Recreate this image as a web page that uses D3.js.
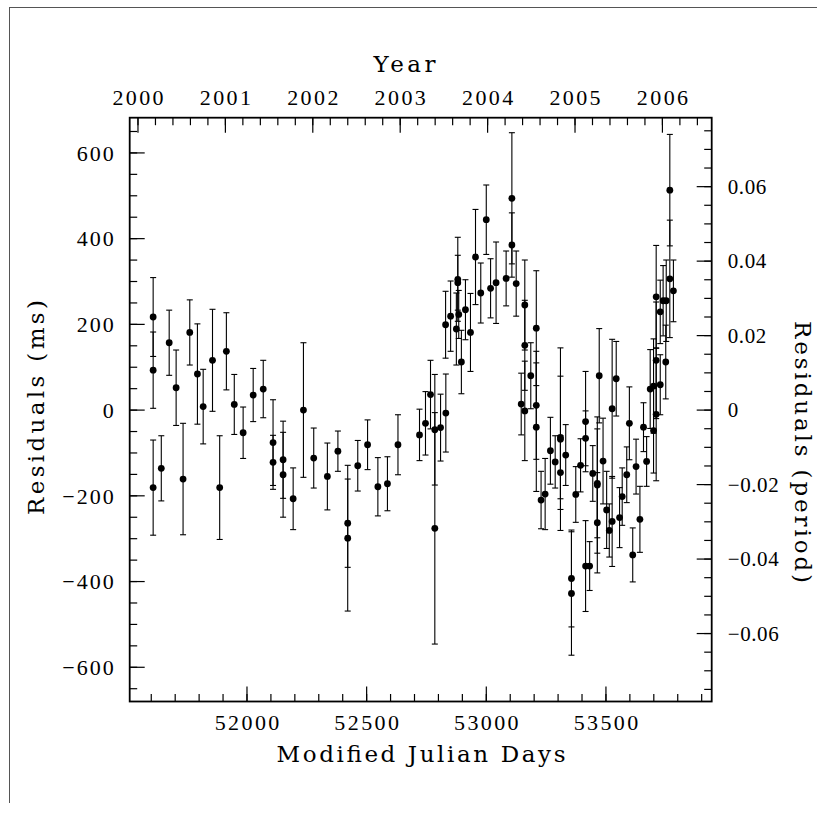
<!DOCTYPE html>
<html><head><meta charset="utf-8">
<script src="https://cdn.jsdelivr.net/npm/d3@7"></script>
<style>
body{margin:0;background:#fff}
svg{display:block}
</style>
</head><body>
<svg id="c" width="817" height="818"></svg>
<script>
// ---- data ----
const mjd = [51610,51610,51610,51644,51677,51706,51735,51763,51795,51819,
  51858,51888,51916,51949,51986,52028,52070,52111,52111,52153,
  52153,52195,52238,52281,52338,52382,52423,52423,52465,52506,
  52549,52589,52633,52723,52748,52769,52787,52787,52811,52833,
  52832,52853,52877,52883,52883,52887,52898,52915,52936,52957,
  52979,53002,53020,53043,53085,53109,53109,53127,53148,53163,
  53163,53163,53188,53211,53211,53211,53231,53248,53270,53290,
  53312,53312,53312,53334,53358,53358,53376,53396,53417,53417,
  53417,53434,53447,53466,53466,53466,53474,53490,53505,53516,
  53528,53528,53545,53559,53570,53589,53600,53614,53628,53644,
  53659,53672,53687,53701,53701,53712,53712,53712,53729,53729,
  53741,53754,53752,53769,53769,53784];
const res = [216,92,-182,-137,156,51,-162,180,83,7,
  115,-182,136,12,-54,34,48,-77,-123,-117,
  -152,-208,-1,-113,-156,-97,-265,-300,-131,-82,
  -180,-173,-82,-59,-32,35,-47,-277,-42,-8,
  198,218,188,304,296,222,111,233,180,356,
  272,443,283,296,306,493,384,294,13,244,
  150,-3,79,190,10,-41,-211,-197,-96,-122,
  -65,-69,-147,-106,-394,-429,-198,-130,-28,-67,
  -365,-365,-149,-172,-176,-264,79,-120,-234,-282,
  -261,2,72,-252,-203,-152,-32,-339,-133,-256,
  -41,-121,48,55,-49,263,115,-11,228,58,
  254,254,111,512,305,277];
const err = [92,89,111,76,76,88,130,76,117,87,
  119,121,90,70,60,62,67,100,63,90,
  99,72,157,70,78,47,103,170,59,58,
  68,63,70,60,74,80,129,270,78,91,
  78,82,84,98,64,56,74,70,91,111,
  70,81,69,95,64,153,75,76,72,105,
  105,116,77,134,126,150,67,83,78,61,
  143,213,86,71,113,144,65,62,117,64,
  106,57,65,127,159,117,110,100,90,62,
  105,162,87,70,67,65,85,63,64,77,
  57,58,92,110,99,120,136,155,74,70,
  82,95,86,130,137,72];

const mjdTicks  = [52000, 52500, 53000, 53500];
const yearTicks = [2000, 2001, 2002, 2003, 2004, 2005, 2006];
const msTicks   = [-600, -400, -200, 0, 200, 400, 600];
const perTicks  = [-0.06, -0.04, -0.02, 0, 0.02, 0.04, 0.06];
const PERIOD_MS = 8688.3;   // spin period used for the right axis

// ---- layout ----
const FONT = "'Liberation Serif', serif";
const TFONT = "'DejaVu Serif', serif";
const L = 129.7, R = 711.7, T = 117.7, B = 701.5;
const svg = d3.select("#c");

// page frame lines
svg.append("line").attr("x1",9).attr("x2",817).attr("y1",7.5).attr("y2",7.5).attr("stroke","#555").attr("stroke-width",1);
svg.append("line").attr("x1",9.5).attr("x2",9.5).attr("y1",7.5).attr("y2",803).attr("stroke","#555").attr("stroke-width",1);

const x = d3.scaleLinear().domain([51512, 53944]).range([L, R]);
const y = d3.scaleLinear().domain([-681, 681]).range([B, T]);
const yP = d3.scaleLinear().domain([-681/PERIOD_MS, 681/PERIOD_MS]).range([B, T]);
const toYear = m => 2000 + (m - 51544.5)/365.25;
const xY = d3.scaleLinear().domain(x.domain().map(toYear)).range([L, R]);

const within = (s, arr) => { const [a,b] = d3.extent(s.domain()); return arr.filter(v => v >= a - 1e-9 && v <= b + 1e-9); };
const mjdMinor = within(x, d3.range(51500, 54001, 100));
const yearMinor = within(xY, d3.range(0, 40).map(i => +(1999 + i*0.2).toFixed(1)));
const msMinor = within(y, d3.range(-700, 701, 50));
const perMinor = within(yP, d3.range(-16, 17).map(i => +(i*0.005).toFixed(3)));

function tickAxis(axisFn, scale, vals, size, tr) {
  const g = svg.append("g").attr("transform", tr)
    .call(axisFn(scale).tickValues(vals).tickSize(size).tickFormat(""));
  g.select(".domain").remove();
  g.selectAll("line").attr("stroke", "#000").attr("stroke-width", 1.2);
}
// inward ticks on all four sides
tickAxis(d3.axisTop,    x,  mjdMinor, 7.5, `translate(0,${B})`);
tickAxis(d3.axisTop,    x,  mjdTicks, 15,  `translate(0,${B})`);
tickAxis(d3.axisBottom, xY, yearMinor, 7.5, `translate(0,${T})`);
tickAxis(d3.axisBottom, xY, yearTicks, 15,  `translate(0,${T})`);
tickAxis(d3.axisRight,  y,  msMinor, 7.5, `translate(${L},0)`);
tickAxis(d3.axisRight,  y,  msTicks, 15,  `translate(${L},0)`);
tickAxis(d3.axisLeft,   yP, perMinor, 7.5, `translate(${R},0)`);
tickAxis(d3.axisLeft,   yP, perTicks, 15,  `translate(${R},0)`);

const fmtMs = d => d === 0 ? "0" : (d < 0 ? "\u2212" : "") + Math.abs(d);
const fmtP = d => Math.abs(d) < 1e-9 ? "0" : (d < 0 ? "\u2212" : "") + Math.abs(d).toFixed(2);
const fmtInt = d => String(d);

function labelAxis(axisFn, scale, vals, fmt, tr, fs, ls, place) {
  const g = svg.append("g").attr("transform", tr)
    .call(axisFn(scale).tickValues(vals).tickSize(0).tickFormat(fmt));
  g.select(".domain").remove();
  g.selectAll("line").remove();
  g.attr("font-family", null).attr("font-size", null);
  const t = g.selectAll("text")
    .attr("font-family", FONT).attr("font-size", fs).attr("fill", "#000")
    .style("letter-spacing", ls + "px");
  place(t);
}
labelAxis(d3.axisBottom, x, mjdTicks, fmtInt, `translate(0,${B})`, 22, 2.4,
  t => t.attr("y", 28.5).attr("dy", null).attr("dx", 1.2));
labelAxis(d3.axisTop, xY, yearTicks, fmtInt, `translate(0,${T})`, 22, 2.4,
  t => t.attr("y", -12.7).attr("dy", null).attr("dx", 1.2));
labelAxis(d3.axisLeft, y, msTicks, fmtMs, `translate(${L},0)`, 22, 2.0,
  t => t.attr("x", -14).attr("dy", "0.35em"));
labelAxis(d3.axisRight, yP, perTicks, fmtP, `translate(${R},0)`, 21, 0.6,
  t => t.attr("x", 16).attr("dy", "0.35em"));

// titles
function title(txt, len, tx, ty, rot) {
  svg.append("text").text(txt)
    .attr("font-family", TFONT).attr("font-size", 23).attr("fill", "#000")
    .attr("text-anchor", "middle")
    .attr("textLength", len).attr("lengthAdjust", "spacing")
    .attr("transform", `translate(${tx},${ty}) rotate(${rot})`);
}
title("Year", 62, 404.5, 72, 0);
title("Modified Julian Days", 289, 421, 762, 0);
title("Residuals (ms)", 215, 44, 407.5, -90);
title("Residuals (period)", 262, 795, 452, 90);

// data: error bars + points
const pts = mjd.map((m, i) => ({ m, r: res[i], e: err[i] }));
const gd = svg.append("g").attr("stroke", "#000").attr("stroke-width", 1.1);
gd.selectAll("line.bar").data(pts).join("line").attr("class", "bar")
  .attr("x1", d => x(d.m)).attr("x2", d => x(d.m))
  .attr("y1", d => y(d.r + d.e)).attr("y2", d => y(d.r - d.e));
gd.selectAll("line.capt").data(pts).join("line").attr("class", "capt")
  .attr("x1", d => x(d.m) - 3).attr("x2", d => x(d.m) + 3)
  .attr("y1", d => y(d.r + d.e)).attr("y2", d => y(d.r + d.e));
gd.selectAll("line.capb").data(pts).join("line").attr("class", "capb")
  .attr("x1", d => x(d.m) - 3).attr("x2", d => x(d.m) + 3)
  .attr("y1", d => y(d.r - d.e)).attr("y2", d => y(d.r - d.e));
svg.append("g").selectAll("circle").data(pts).join("circle")
  .attr("cx", d => x(d.m)).attr("cy", d => y(d.r)).attr("r", 3.4).attr("fill", "#000");

// frame
svg.append("rect").attr("x", L).attr("y", T).attr("width", R - L).attr("height", B - T)
  .attr("fill", "none").attr("stroke", "#000").attr("stroke-width", 1.8);
</script>
</body></html>
